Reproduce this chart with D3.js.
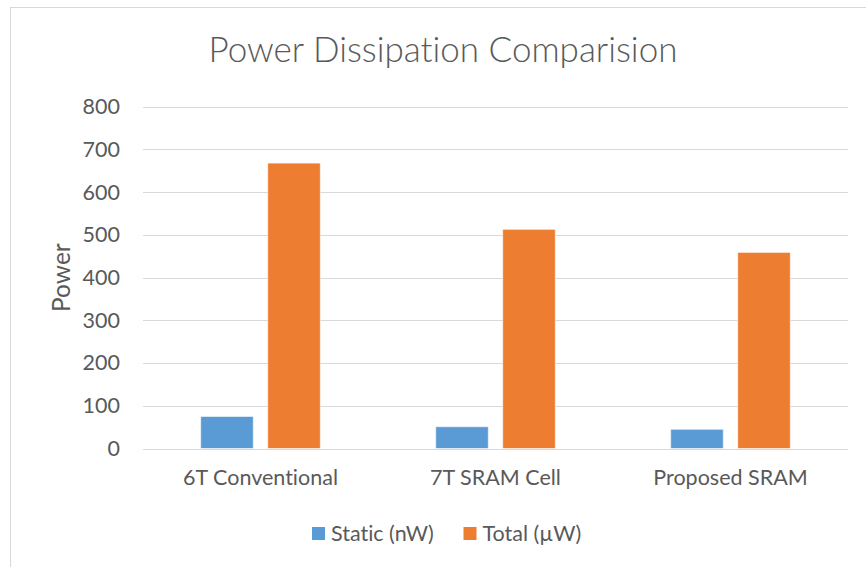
<!DOCTYPE html>
<html>
<head>
<meta charset="utf-8">
<script src="https://cdn.jsdelivr.net/npm/d3@7"></script>
<style>
  html, body { margin: 0; padding: 0; background: #fff; }
  svg { display: block; }
  text { font-family: Lato, "Open Sans", sans-serif; fill: #595959; font-variant-ligatures: none; font-feature-settings: "liga" 0, "clig" 0, "dlig" 0; }
</style>
</head>
<body>
<svg id="chart" width="866" height="567"></svg>
<script>
const categories = ["6T Conventional", "7T SRAM Cell", "Proposed SRAM"];
const seriesNames = ["Static (nW)", "Total (µW)"];
const staticValues = [75, 51, 45];
const totalValues = [668, 513, 459];
const yTicks = [0, 100, 200, 300, 400, 500, 600, 700, 800];
const colors = ["#5B9BD5", "#ED7D31"];

const svg = d3.select("#chart");

// chart border
svg.append("rect")
  .attr("x", 10.5).attr("y", 7.5)
  .attr("width", 900).attr("height", 600)
  .attr("fill", "#fff").attr("stroke", "#d9d9d9").attr("stroke-width", 1);

const plot = { left: 143, right: 848, top: 106.7, bottom: 448.5 };

const x0 = d3.scaleBand().domain(categories)
  .range([plot.left, plot.right]).paddingInner(0.491).paddingOuter(0.2455);
const x1 = d3.scaleBand().domain(seriesNames)
  .range([0, x0.bandwidth()]).paddingInner(0.215).paddingOuter(0);
const y = d3.scaleLinear().domain([0, 800]).range([plot.bottom, plot.top]);

// gridlines
svg.append("g").selectAll("line").data(yTicks).join("line")
  .attr("x1", plot.left).attr("x2", plot.right)
  .attr("y1", d => Math.round(y(d)) + 0.5).attr("y2", d => Math.round(y(d)) + 0.5)
  .attr("stroke", "#d9d9d9").attr("stroke-width", 1);

// y axis labels
const yAxis = d3.axisLeft(y).tickValues(yTicks).tickSize(0).tickPadding(0);
const gy = svg.append("g").attr("transform", `translate(120,0)`).call(yAxis);
gy.select(".domain").remove();
gy.selectAll("text").style("font-size", "21.5px").attr("fill", "#595959")
  .style("font-family", "Lato, 'Open Sans', sans-serif");

// bars
const data = categories.map((c, i) => ({ cat: c, vals: [staticValues[i], totalValues[i]] }));
const groups = svg.append("g").selectAll("g").data(data).join("g")
  .attr("transform", d => `translate(${x0(d.cat)},0)`);
groups.selectAll("rect").data(d => d.vals.map((v, j) => ({ s: seriesNames[j], v, j })))
  .join("rect")
  .attr("x", d => x1(d.s))
  .attr("y", d => y(d.v))
  .attr("width", x1.bandwidth())
  .attr("height", d => y(0) - y(d.v))
  .attr("fill", d => colors[d.j])
  .attr("stroke", "#ffffff").attr("stroke-opacity", 0.6).attr("stroke-width", 1);

// x axis labels
const xAxis = d3.axisBottom(x0).tickSize(0).tickPadding(0);
const gx = svg.append("g").attr("transform", `translate(0,485)`).call(xAxis);
gx.select(".domain").remove();
gx.selectAll("text").attr("dy", 0).attr("y", 0)
  .style("font-size", "21.5px").attr("fill", "#595959")
  .style("font-family", "Lato, 'Open Sans', sans-serif");

// title
svg.append("text").attr("x", 443).attr("y", 62)
  .attr("text-anchor", "middle")
  .style("font-size", "35px").style("font-weight", 300)
  .text("Power Dissipation Comparision");

// y axis title
svg.append("text")
  .attr("transform", `translate(70,${(plot.top + plot.bottom) / 2}) rotate(-90)`)
  .attr("text-anchor", "middle")
  .style("font-size", "24.5px")
  .text("Power");

// legend
const legendPos = [312, 463.5];
const lg = svg.append("g").selectAll("g").data(seriesNames).join("g")
  .attr("transform", (d, i) => `translate(${legendPos[i]},527)`);
lg.append("rect").attr("width", 13).attr("height", 13).attr("fill", (d, i) => colors[i]);
lg.append("text").attr("x", 19).attr("y", 14).style("font-size", "21.5px").text(d => d);
</script>
</body>
</html>
